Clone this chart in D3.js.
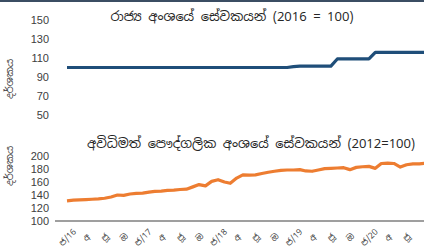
<!DOCTYPE html>
<html lang="si">
<head>
<meta charset="UTF-8">
<title>සේවක වැටුප් දර්ශක</title>
<script src="https://d3js.org/d3.v7.min.js"></script>
<style>
  body { margin: 0; background: #fff; }
  svg { display: block; font-family: "Noto Sans Sinhala", "Noto Sans", sans-serif; }
  .tick text { fill: #404040; }
  .title { font-size: 13px; fill: #262626; }
  .ytitle { font-size: 10px; fill: #404040; }
</style>
</head>
<body>
<svg width="424" height="247"></svg>
<script>
// monthly data, Jan 2016 onward
const publicIdx = [
  100, 100, 100, 100, 100, 100, 100, 100, 100, 100, 100, 100,
  100, 100, 100, 100, 100, 100, 100, 100, 100, 100, 100, 100,
  100, 100, 100, 100, 100, 100, 100, 100, 100, 100, 100, 100,
  101, 101.5, 101.5, 101.5, 101.5, 101.5, 101.5, 109, 109, 109, 109, 109,
  109, 116, 116, 116, 116, 116, 116, 116, 116, 116
];
const informalIdx = [
  131, 132, 132.5, 133, 133.5, 134, 135, 137, 140, 139.5, 141.5, 142.5,
  143, 144.5, 145.5, 146, 147, 147.5, 148.5, 149, 152.5, 156, 154, 161,
  163.5, 160, 158, 166, 171, 170.5, 171, 173, 175, 176.5, 178, 178.5,
  178.5, 179, 177, 176.5, 178.5, 180.5, 181, 181.5, 182, 179, 182.5, 183.5,
  184, 181, 188.5, 189, 188.5, 183, 186.5, 188, 188, 189
];
const xLabels = [
  "ජ/16", "අ", "ජූ", "ඔ", "ජ/17", "අ", "ජූ", "ඔ", "ජ/18", "අ", "ජූ", "ඔ",
  "ජ/19", "අ", "ජූ", "ඔ", "ජ/20", "අ", "ජූ"
];
const topTicks = [50, 70, 90, 110, 130, 150];
const botTicks = [100, 120, 140, 160, 180, 200];
const topTitle = "රාජ්‍ය අංශයේ සේවකයන් (2016 = 100)";
const botTitle = "අවිධිමත් පෞද්ගලික අංශයේ සේවකයන් (2012=100)";
const yTitle = "දර්ශකය";

const svg = d3.select("svg");

const months = d3.timeMonth.range(new Date(2016, 0, 1), new Date(2016, publicIdx.length, 1));
const x = d3.scaleTime()
    .domain([months[0], months[months.length - 1]])
    .range([67, 67 + 6.29 * (months.length - 1)]);

const yTop = d3.scaleLinear().domain([50, 150]).range([115, 20]);
const yBot = d3.scaleLinear().domain([100, 200]).range([221, 156]);

// top border
svg.append("rect").attr("x", 0).attr("y", 0).attr("width", 424).attr("height", 2)
    .attr("fill", "#3b4d63");

function drawPanel(y, ticks, values, color, title, titleX, titleY, yTitleY) {
    const ax = svg.append("g")
        .attr("transform", "translate(52,0)")
        .call(d3.axisLeft(y).tickValues(ticks).tickSize(0).tickPadding(3));
    ax.select(".domain").remove();
    ax.selectAll("text").style("font-size", "11px");

    svg.append("text").attr("class", "title")
        .attr("x", titleX).attr("y", titleY)
        .attr("text-anchor", "middle")
        .text(title);

    svg.append("text").attr("class", "ytitle")
        .attr("transform", `translate(13,${yTitleY}) rotate(-90)`)
        .attr("text-anchor", "middle")
        .text(yTitle);

    const line = d3.line()
        .x((d, i) => x(months[i]))
        .y(d => y(d));

    svg.append("path")
        .datum(values)
        .attr("fill", "none")
        .attr("stroke", color)
        .attr("stroke-width", 3.2)
        .attr("stroke-linejoin", "round")
        .attr("d", line);
}

drawPanel(yTop, topTicks, publicIdx, "#1f4e79", topTitle, 232, 21, 79);

// bottom axis line
svg.append("line")
    .attr("x1", 55).attr("x2", 424)
    .attr("y1", yBot(100)).attr("y2", yBot(100))
    .attr("stroke", "#404040").attr("stroke-width", 1.2);

drawPanel(yBot, botTicks, informalIdx, "#ed7d31", botTitle, 251, 148, 166);

// quarterly x labels
const quarters = months.filter(d => d.getMonth() % 3 === 0).slice(0, xLabels.length);
svg.append("g").selectAll("text")
    .data(quarters)
    .join("text")
    .attr("transform", d => `translate(${x(d)},237) rotate(-45)`)
    .attr("text-anchor", "middle")
    .attr("dominant-baseline", "central")
    .style("font-size", "8.5px")
    .attr("fill", "#404040")
    .text((d, i) => xLabels[i]);
</script>
</body>
</html>
